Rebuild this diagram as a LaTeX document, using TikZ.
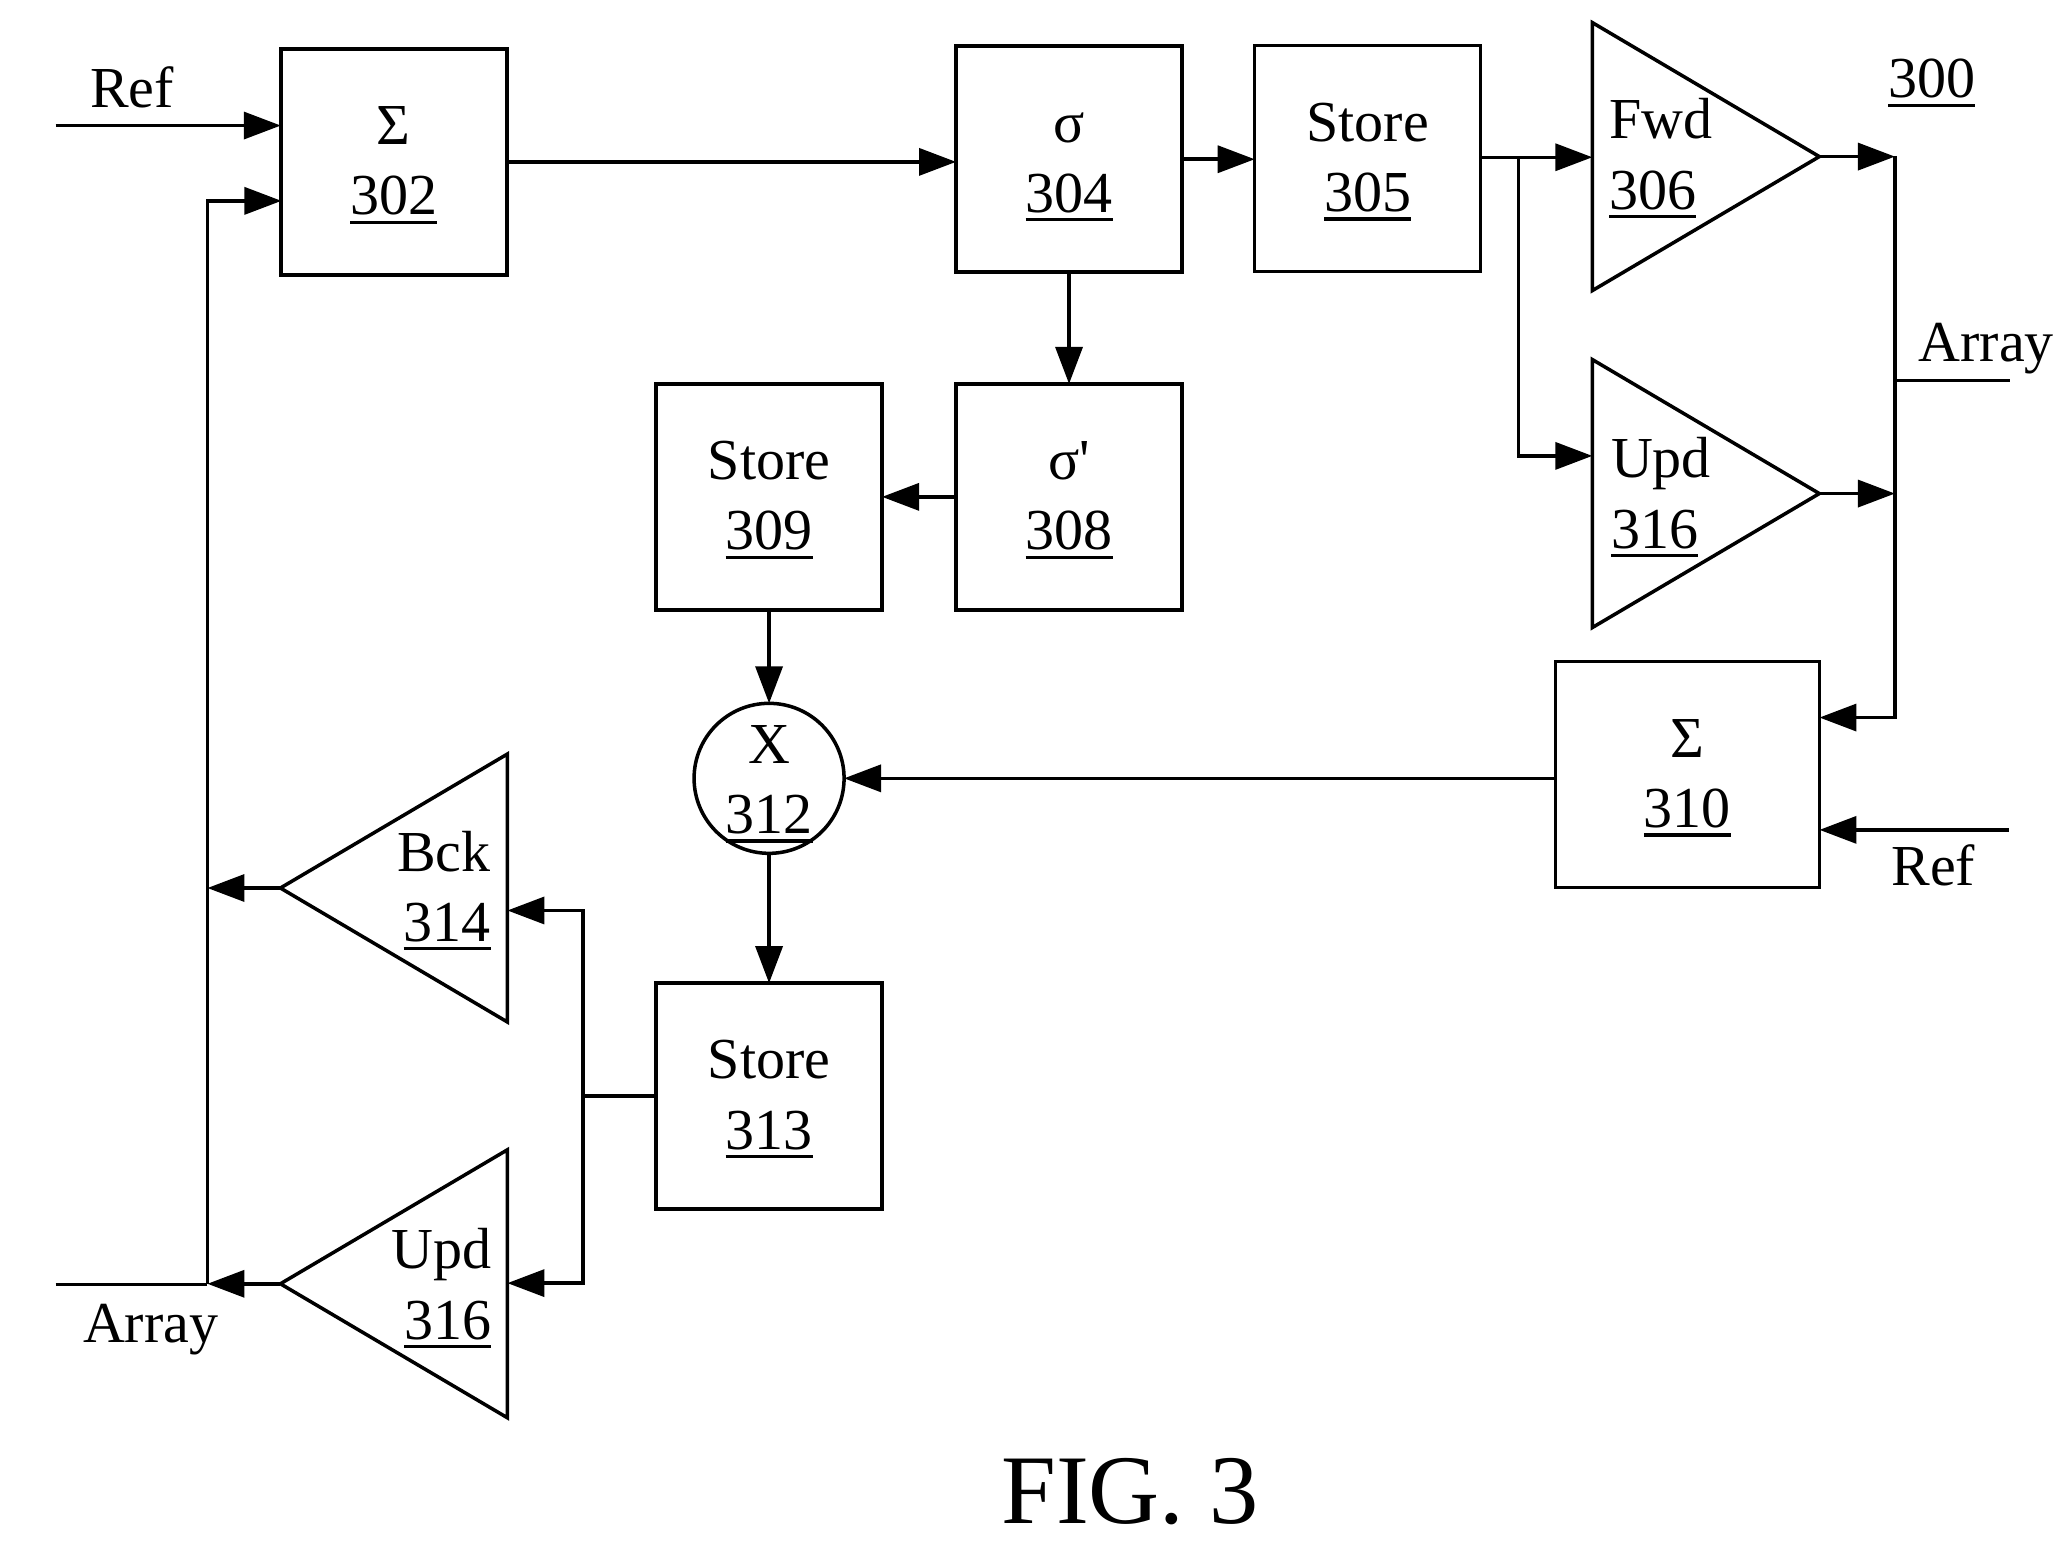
\documentclass[tikz,border=0pt]{standalone}
\usepackage{fontspec}
\setmainfont{Liberation Serif}
\newfontfamily\primefont{Liberation Serif}
\usetikzlibrary{arrows.meta, shapes.geometric}
\newcommand{\ulnum}[1]{\setbox0\hbox{#1}\leavevmode\rlap{\rule[-2.6pt]{\wd0}{1pt}}\box0}
\newcommand{\capline}{\rule{0pt}{12.8pt}}
\tikzset{
	blockbox/.style={draw, rectangle, line width=1pt, minimum width=2.26cm, minimum height=2.26cm, inner sep=0pt, outer sep=0pt, align=center, font=\fontsize{16.5}{20}\selectfont},
	widebox/.style={blockbox, minimum width=2.64cm},
	mulcircle/.style={draw, circle, line width=1pt, minimum size=1.5cm, inner sep=0pt, outer sep=0pt},
	amp/.style={draw, isosceles triangle, isosceles triangle stretches, line width=1pt, minimum width=2.68cm, minimum height=2.27cm, inner sep=0pt, outer sep=0pt},
	amptext/.style={inner sep=0pt, align=left, font=\fontsize{16.5}{20}\selectfont},
	plaintext/.style={inner sep=0pt, font=\fontsize{16.5}{20}\selectfont},
	sig/.style={line width=1pt, -{Triangle[length=0.37cm, width=0.27cm]}},
	wire/.style={line width=1pt}
}
\begin{document}
\begin{tikzpicture}[x=0.013214cm, y=-0.013214cm]
	\useasboundingbox (0,0) rectangle (1568,1167.7);
	\node[blockbox] (sum302) at (298,122.5) {\capline Σ\\\ulnum{302}};
	\node[blockbox] (sig304) at (809,120.5) {\capline σ\\\ulnum{304}};
	\node[blockbox] (store305) at (1035,120) {\capline Store\\\ulnum{305}};
	\node[blockbox] (sig308) at (809,376) {\capline σ{\primefont'}\\\ulnum{308}};
	\node[blockbox] (store309) at (582,376) {\capline Store\\\ulnum{309}};
	\node[widebox] (sum310) at (1277,586) {\capline Σ\\\ulnum{310}};
	\node[blockbox] (store313) at (582,829.5) {\capline Store\\\ulnum{313}};
	\node[mulcircle] (mul312) at (582,589) {};
	\node[amp, anchor=west] (fwd306) at (1205,118.5) {};
	\node[amp, anchor=west] (upd316r) at (1205,373.5) {};
	\node[amp, shape border rotate=180, anchor=east] (bck314) at (384,672) {};
	\node[amp, shape border rotate=180, anchor=east] (upd316l) at (384,971.5) {};
	\node[amptext, align=center] (multext) at (582,589) {\rule{0pt}{14pt}X\\\ulnum{312}};
	\node[amptext] (fwdtext) at (1257,120) {Fwd\\\ulnum{306}};
	\node[amptext] (updrtext) at (1257,376.5) {Upd\\\ulnum{316}};
	\node[amptext, align=right] (bcktext) at (336,674) {Bck\\\ulnum{314}};
	\node[amptext, align=right] (updltext) at (334,975) {Upd\\\ulnum{316}};
	\node[plaintext] (refa) at (100,66) {Ref};
	\node[plaintext] (refb) at (1463,655) {Ref};
	\node[plaintext] (arraya) at (1503,264) {Array};
	\node[plaintext] (arrayb) at (114,1006) {Array};
	\node[plaintext] (num300) at (1462,63) {\ulnum{300}};
	\node[inner sep=0pt, font=\fontsize{28}{30}\selectfont] (figlabel) at (855,1129) {FIG. 3};
	\coordinate (refin) at (42,95);
	\coordinate (backin) at (213,152);
	\coordinate (leftbus) at (157,972);
	\coordinate (leftout) at (42,972);
	\coordinate (branch) at (1149,119);
	\coordinate (updin) at (1205,345);
	\coordinate (bustop) at (1434,118);
	\coordinate (busmid) at (1434,373);
	\coordinate (busbot) at (1434,543);
	\coordinate (arrayr) at (1521,288);
	\coordinate (refr) at (1520,628);
	\coordinate (fork) at (441,829.5);
	\coordinate (forktop) at (441,689);
	\coordinate (forkbot) at (441,971);
	\draw[sig] (refin) -- (refin -| sum302.west);
	\draw[sig] (leftbus) -- (leftbus |- backin) -- (backin);
	\draw[wire] (leftout) -- (leftbus);
	\draw[sig] (sum302.east) -- (sum302.east -| sig304.west);
	\draw[sig] (sig304.east) -- (sig304.east -| store305.west);
	\draw[sig] (store305.east |- branch) -- (fwd306.west |- branch);
	\draw[sig] (branch) -- (branch |- updin) -- (updin);
	\draw[sig] (fwd306.east) -- (fwd306.east -| bustop);
	\draw[sig] (upd316r.east) -- (upd316r.east -| busmid);
	\draw[sig] (bustop) -- (busbot) -- (busbot -| sum310.east);
	\draw[wire] (arrayr) -- (arrayr -| bustop);
	\draw[sig] (refr) -- (refr -| sum310.east);
	\draw[sig] (mul312.east -| sum310.west) -- (mul312.east);
	\draw[sig] (sig304.south) -- (sig308.north);
	\draw[sig] (sig308.west) -- (store309.east);
	\draw[sig] (store309.south) -- (mul312.north);
	\draw[sig] (mul312.south) -- (store313.north);
	\draw[wire] (store313.west) -- (fork);
	\draw[sig] (fork) -- (forktop) -- (forktop -| bck314.east);
	\draw[sig] (fork) -- (forkbot) -- (forkbot -| upd316l.east);
	\draw[sig] (bck314.west) -- (bck314.west -| leftbus);
	\draw[sig] (upd316l.west) -- (upd316l.west -| leftbus);
\end{tikzpicture}
\end{document}
